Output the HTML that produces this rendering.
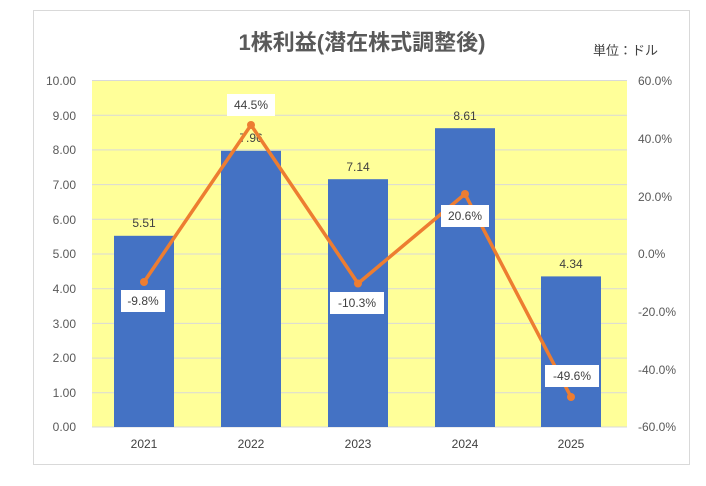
<!DOCTYPE html>
<html><head><meta charset="utf-8"><style>
body{margin:0;background:#fff;}
svg text{font-family:"Liberation Sans","Noto Sans CJK JP",sans-serif;}
</style></head><body>
<svg width="706" height="481" xmlns="http://www.w3.org/2000/svg">
<rect x="0" y="0" width="706" height="481" fill="#fff"/>
<rect x="33.5" y="10.5" width="656" height="454" fill="#fff" stroke="#d9d9d9"/>
<text x="362" y="50" font-size="22" font-weight="bold" fill="#595959" text-anchor="middle">1株利益(潜在株式調整後)</text>
<text x="658" y="55" font-size="13" fill="#404040" text-anchor="end">単位：ドル</text>
<rect x="92" y="80" width="535" height="347" fill="#ffff99"/>
<g stroke="#d9d9d9" stroke-width="1">
<line x1="92" x2="627" y1="80.5" y2="80.5"/><line x1="92" x2="627" y1="115.2" y2="115.2"/>
<line x1="92" x2="627" y1="149.9" y2="149.9"/><line x1="92" x2="627" y1="184.6" y2="184.6"/>
<line x1="92" x2="627" y1="219.3" y2="219.3"/><line x1="92" x2="627" y1="254" y2="254"/>
<line x1="92" x2="627" y1="288.7" y2="288.7"/><line x1="92" x2="627" y1="323.4" y2="323.4"/>
<line x1="92" x2="627" y1="358.1" y2="358.1"/><line x1="92" x2="627" y1="392.8" y2="392.8"/>
<line x1="92" x2="627" y1="427" y2="427"/>
</g>
<g font-size="12" fill="#595959" text-anchor="end">
<text x="76" y="85">10.00</text><text x="76" y="120">9.00</text><text x="76" y="154">8.00</text>
<text x="76" y="189">7.00</text><text x="76" y="224">6.00</text><text x="76" y="258">5.00</text>
<text x="76" y="293">4.00</text><text x="76" y="328">3.00</text><text x="76" y="362">2.00</text>
<text x="76" y="397">1.00</text><text x="76" y="431">0.00</text>
</g>
<g font-size="12" fill="#595959" text-anchor="start">
<text x="638" y="85">60.0%</text><text x="638" y="143">40.0%</text><text x="638" y="201">20.0%</text>
<text x="638" y="258">0.0%</text><text x="638" y="316">-20.0%</text><text x="638" y="374">-40.0%</text>
<text x="638" y="431">-60.0%</text>
</g>
<g fill="#4472c4">
<rect x="114" y="235.8" width="60" height="191.2"/>
<rect x="221" y="150.8" width="60" height="276.2"/>
<rect x="328" y="179.2" width="60" height="247.8"/>
<rect x="435" y="128.2" width="60" height="298.8"/>
<rect x="541" y="276.4" width="60" height="150.6"/>
</g>
<g font-size="12" fill="#404040" text-anchor="middle">
<text x="144" y="227">5.51</text><text x="251" y="142">7.96</text><text x="358" y="171">7.14</text>
<text x="465" y="120">8.61</text><text x="571" y="268">4.34</text>
<text x="144" y="448">2021</text><text x="251" y="448">2022</text><text x="358" y="448">2023</text>
<text x="465" y="448">2024</text><text x="571" y="448">2025</text>
</g>
<polyline points="144,282 251,125 358,283.5 465,194 571,397" fill="none" stroke="#ed7d31" stroke-width="3.5" stroke-linejoin="round"/>
<g fill="#ed7d31">
<circle cx="144" cy="282" r="4"/><circle cx="251" cy="125" r="4"/><circle cx="358" cy="283.5" r="4"/>
<circle cx="465" cy="194" r="4"/><circle cx="571" cy="397" r="4"/>
</g>
<g fill="#fff">
<rect x="121" y="290" width="44" height="22"/><rect x="227" y="94" width="48" height="22"/>
<rect x="330" y="292" width="54" height="22"/><rect x="441" y="205" width="48" height="22"/>
<rect x="545" y="365" width="54" height="22"/>
</g>
<g font-size="12" fill="#404040" text-anchor="middle">
<text x="143" y="305">-9.8%</text><text x="251" y="109">44.5%</text><text x="357" y="307">-10.3%</text>
<text x="465" y="220">20.6%</text><text x="572" y="380">-49.6%</text>
</g>
</svg>
</body></html>
